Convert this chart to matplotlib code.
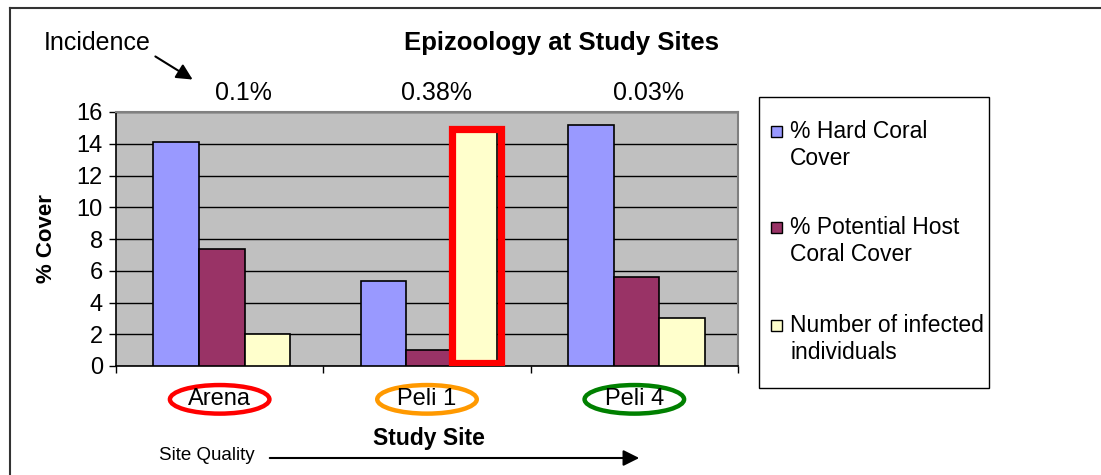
import matplotlib.pyplot as plt
import numpy as np
from matplotlib.patches import Ellipse, Rectangle, FancyArrowPatch
from matplotlib.lines import Line2D

plt.rcParams['font.family'] = ['Liberation Sans', 'DejaVu Sans']

sites = ["Arena", "Peli 1", "Peli 4"]
site_colors = ["#FF0000", "#FF9900", "#008000"]
incidence = ["0.1%", "0.38%", "0.03%"]
series_names = ["% Hard Coral\nCover", "% Potential Host\nCoral Cover",
                "Number of infected\nindividuals"]
series_colors = ["#9999FF", "#993366", "#FFFFCC"]
hard_coral = [14.1, 5.35, 15.2]
host_coral = [7.35, 1.0, 5.6]
infected = [2.0, 15.0, 3.0]
yticks = [0, 2, 4, 6, 8, 10, 12, 14, 16]

W, H = 1101, 475


def fx(x):
    return x / W


def fy(y):
    return 1 - y / H


fig = plt.figure(figsize=(W / 100, H / 100), dpi=100)
ax = fig.add_axes([fx(116), fy(366), fx(738) - fx(116), fy(112) - fy(366)])
ax.set_facecolor("#C0C0C0")

x = np.arange(len(sites))
w = 0.22
values = [hard_coral, host_coral, infected]
bars = []
for i, (vals, col) in enumerate(zip(values, series_colors)):
    b = ax.bar(x + (i - 1) * w + 0.01, vals, w, color=col, edgecolor="black",
               linewidth=1.2, zorder=3)
    bars.append(b)

# highlight Peli 1 infected bar
hb = bars[2][1]
ax.add_patch(Rectangle((hb.get_x(), 0.22), hb.get_width() + 0.015, hb.get_height() - 0.32,
                       fill=False, edgecolor="#FF0000", linewidth=5.2, zorder=4,
                       joinstyle="miter"))

ax.set_xlim(-0.5, 2.5)
ax.set_ylim(0, 16)
ax.set_yticks(yticks)
ax.yaxis.grid(True, color="black", linewidth=1.0, zorder=1)
ax.set_axisbelow(True)
ax.tick_params(axis="y", labelsize=17, length=5, width=1, pad=4.5, direction="out")
ax.set_xticks([-0.5, 0.5, 1.5, 2.5])
ax.set_xticklabels([])
ax.tick_params(axis="x", length=5, width=1, direction="out")
for s in ["top", "right"]:
    ax.spines[s].set_color("#808080")
    ax.spines[s].set_linewidth(1.5)
for s in ["left", "bottom"]:
    ax.spines[s].set_color("black")
    ax.spines[s].set_linewidth(1.2)

ax.set_ylabel("% Cover", fontsize=16, fontweight="bold")
ax.yaxis.set_label_coords(-0.095, 0.5)

# site labels with ellipses, centred under each category
for xi, name, col in zip(x, sites, site_colors):
    ax.text(xi, -2.1, name, fontsize=17, ha="center", va="center", clip_on=False)
    ax.add_patch(Ellipse((xi, -2.1), 0.48, 1.8, fill=False, edgecolor=col,
                         linewidth=3.2, clip_on=False))

# incidence values above each site
inc_px = [243, 437, 649]
for px, txt in zip(inc_px, incidence):
    fig.text(fx(px), fy(93), txt, fontsize=18, ha="center", va="center")

fig.text(fx(562), fy(43), "Epizoology at Study Sites", fontsize=18.5,
         fontweight="bold", ha="center", va="center")
fig.text(fx(97), fy(43), "Incidence", fontsize=18, ha="center", va="center")
fig.patches.append(FancyArrowPatch(
    (fx(153), fy(55)), (fx(195), fy(81)), transform=fig.transFigure,
    arrowstyle="-|>", mutation_scale=24, color="black", linewidth=1.5))

fig.text(fx(429), fy(438), "Study Site", fontsize=16.5, fontweight="bold",
         ha="center", va="center")
fig.text(fx(207), fy(456), "Site Quality", fontsize=13.5, ha="center", va="center")
fig.patches.append(FancyArrowPatch(
    (fx(267), fy(458)), (fx(642), fy(458)), transform=fig.transFigure,
    arrowstyle="-|>", mutation_scale=24, color="black", linewidth=1.5))

# legend box
fig.patches.append(Rectangle((fx(759), fy(388)), fx(989) - fx(759), fy(97) - fy(388),
                             fill=False, edgecolor="black", linewidth=1.0,
                             transform=fig.transFigure, figure=fig))
leg_y = [132, 228, 326]
for name, col, py in zip(series_names, series_colors, leg_y):
    fig.patches.append(Rectangle((fx(771), fy(py + 5)), fx(11), 11 / H,
                                 facecolor=col, edgecolor="black", linewidth=1.0,
                                 transform=fig.transFigure, figure=fig))
    fig.text(fx(790), fy(py - 12), name, fontsize=16.5, ha="left", va="top",
             linespacing=1.2)

# outer frame (top and left edges)
fig.lines.append(Line2D([fx(10), 1], [fy(8), fy(8)], transform=fig.transFigure,
                        color="#333333", linewidth=1.5))
fig.lines.append(Line2D([fx(10), fx(10)], [fy(8), 0], transform=fig.transFigure,
                        color="#333333", linewidth=1.5))

fig.savefig("out.png", dpi=100)
